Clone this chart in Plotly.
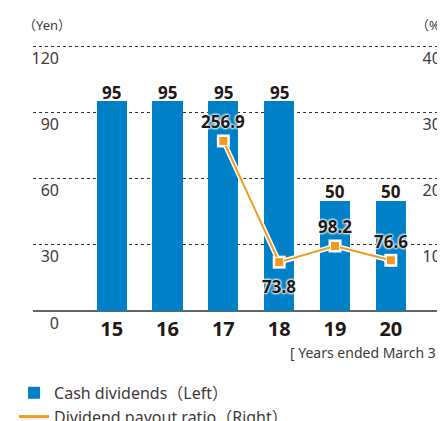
import plotly.graph_objects as go

# ---- data ----
years = ["15", "16", "17", "18", "19", "20"]
cash_dividends = [95, 95, 95, 95, 50, 50]
payout_ratio = [None, None, 256.9, 73.8, 98.2, 76.6]
payout_labels = ["", "", "256.9", "73.8", "98.2", "76.6"]
labels_below = ["18"]          # ratio label drawn under its point
left_ticks = [0, 30, 60, 90, 120]
right_ticks = [0, 100, 200, 300, 400]

BLUE = "#0080C6"
ORANGE = "#F39A1E"
FONT = "Noto Sans, Noto Sans CJK JP, sans-serif"
TXT = "#231815"
GRAY = "#3e3a39"
HALO = "0 0 2px #fff, 0 0 2px #fff, 0 0 3px #fff, 0 0 3px #fff"

fig = go.Figure()

fig.add_trace(go.Bar(
    x=years, y=cash_dividends, name="Cash dividends（Left）",
    marker=dict(color=BLUE, line=dict(width=0)),
    width=0.54, yaxis="y", hoverinfo="skip",
))

# white halo beneath the ratio line
fig.add_trace(go.Scatter(
    x=years, y=payout_ratio, mode="lines+markers", yaxis="y2",
    line=dict(color="white", width=5),
    marker=dict(symbol="square", size=13, color="white"),
    showlegend=False, hoverinfo="skip", cliponaxis=False,
))

fig.add_trace(go.Scatter(
    x=years, y=payout_ratio, mode="lines+markers", yaxis="y2",
    name="Dividend payout ratio（Right）", showlegend=False,
    line=dict(color=ORANGE, width=2),
    marker=dict(symbol="square", size=9, color=ORANGE, line=dict(color="white", width=1)),
    cliponaxis=False, hoverinfo="skip",
))

# legend entry for the ratio line (line-only icon)
fig.add_trace(go.Scatter(
    x=[None], y=[None], mode="lines", yaxis="y2",
    name="Dividend payout ratio（Right）",
    line=dict(color=ORANGE, width=3), hoverinfo="skip",
))

annotations = []
# value labels above bars (category axis: position = category index)
for i, v in enumerate(cash_dividends):
    annotations.append(dict(
        x=i, y=v, xref="x", yref="y", text=str(v), showarrow=False,
        yanchor="middle", yshift=9,
        font=dict(family=FONT, size=17, color=TXT, weight="bold"),
    ))
# ratio labels
for i, (yr, v, lab) in enumerate(zip(years, payout_ratio, payout_labels)):
    if v is None:
        continue
    annotations.append(dict(
        x=i, y=v, xref="x", yref="y2", text=lab, showarrow=False,
        yanchor="middle", yshift=(-24 if yr in labels_below else 19),
        font=dict(family=FONT, size=17, color=TXT, weight="bold", shadow=HALO),
    ))
annotations += [
    dict(text="（Yen）", xref="paper", yref="paper", x=-0.03, y=1.072,
         xanchor="left", yanchor="middle", showarrow=False,
         font=dict(family=FONT, size=13, color=GRAY)),
    dict(text="（%）", xref="paper", yref="paper", x=0.925, y=1.072,
         xanchor="left", yanchor="middle", showarrow=False,
         font=dict(family=FONT, size=13, color=GRAY)),
    dict(text="[ Years ended March 31 ]", xref="paper", yref="paper", x=0.619, y=-0.156,
         xanchor="left", yanchor="middle", showarrow=False,
         font=dict(family=FONT, size=14, color=GRAY)),
]

fig.update_layout(
    width=437, height=413,
    margin=dict(l=25, r=0, t=36, b=110, autoexpand=False),
    paper_bgcolor="white", plot_bgcolor="white",
    font=dict(family=FONT, color=GRAY),
    bargap=0,
    xaxis=dict(
        type="category", range=[-1.41, 5.97],
        showgrid=False, showline=False, zeroline=False, ticks="",
        tickfont=dict(family=FONT, size=20, color=TXT, weight="bold"),
        ticklabelstandoff=4, automargin=False,
    ),
    yaxis=dict(
        range=[0, 121], tickvals=left_ticks, ticktext=[str(t) for t in left_ticks],
        showgrid=True, gridcolor="#333", griddash="dot", gridwidth=1,
        zeroline=True, zerolinecolor="#666", zerolinewidth=2,
        showline=False, ticks="",
        tickfont=dict(family=FONT, size=16, color=GRAY),
        ticklabelposition="outside", ticklabelstandoff=-27, ticklabelshift=12,
        automargin=False,
    ),
    yaxis2=dict(
        range=[0, 121 * 400 / 120], overlaying="y", side="right",
        tickvals=right_ticks, ticktext=[str(t) for t in right_ticks],
        showgrid=False, zeroline=False, showline=False, ticks="",
        tickfont=dict(family=FONT, size=16, color=GRAY),
        ticklabelposition="inside", ticklabelstandoff=-8, ticklabelshift=12,
        automargin=False,
    ),
    showlegend=True,
    legend=dict(
        orientation="v", x=-0.046, xanchor="left", y=-0.243, yanchor="top",
        font=dict(family=FONT, size=16, color=GRAY),
        bgcolor="rgba(0,0,0,0)", borderwidth=0, tracegroupgap=0,
        traceorder="normal",
    ),
    annotations=annotations,
)

fig.write_html("out.html")
